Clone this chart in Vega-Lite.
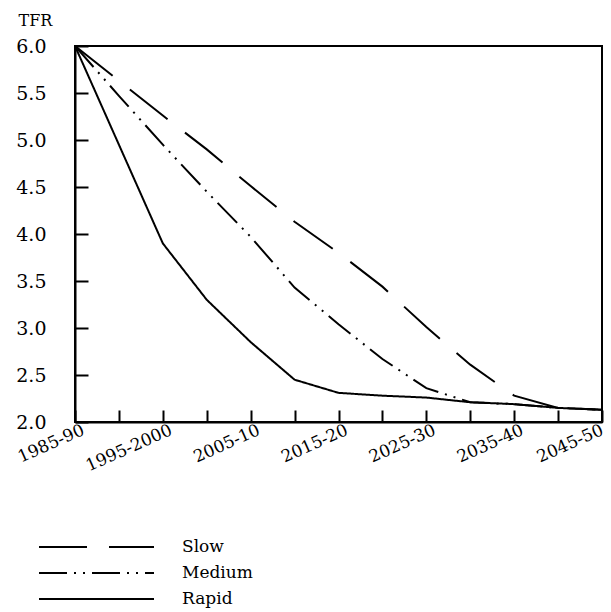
{
  "$schema": "https://vega.github.io/schema/vega-lite/v6.json",
  "autosize": {"type": "none"},
  "width": 527,
  "height": 376,
  "padding": {"left": 75, "top": 46, "right": 9, "bottom": 190},
  "background": "white",
  "config": {
    "view": {"stroke": "black", "strokeWidth": 2},
    "font": "DejaVu Serif",
    "axis": {"domainColor": "black", "domainWidth": 2, "tickColor": "black", "tickWidth": 2, "grid": false, "labelColor": "black", "labelFont": "DejaVu Serif", "titleFont": "DejaVu Serif", "titleColor": "black"},
    "legend": {"labelFont": "DejaVu Serif", "labelColor": "black"}
  },
  "data": {
    "values": [
      {"period": "1985-90", "series": "Slow", "tfr": 6.0},
      {"period": "1990-95", "series": "Slow", "tfr": 5.63},
      {"period": "1995-2000", "series": "Slow", "tfr": 5.26},
      {"period": "2000-05", "series": "Slow", "tfr": 4.90},
      {"period": "2005-10", "series": "Slow", "tfr": 4.51},
      {"period": "2010-15", "series": "Slow", "tfr": 4.13},
      {"period": "2015-20", "series": "Slow", "tfr": 3.80},
      {"period": "2020-25", "series": "Slow", "tfr": 3.44},
      {"period": "2025-30", "series": "Slow", "tfr": 3.01},
      {"period": "2030-35", "series": "Slow", "tfr": 2.61},
      {"period": "2035-40", "series": "Slow", "tfr": 2.28},
      {"period": "2040-45", "series": "Slow", "tfr": 2.15},
      {"period": "2045-50", "series": "Slow", "tfr": 2.13},
      {"period": "1985-90", "series": "Medium", "tfr": 6.0},
      {"period": "1990-95", "series": "Medium", "tfr": 5.47},
      {"period": "1995-2000", "series": "Medium", "tfr": 4.95},
      {"period": "2000-05", "series": "Medium", "tfr": 4.45},
      {"period": "2005-10", "series": "Medium", "tfr": 3.97},
      {"period": "2010-15", "series": "Medium", "tfr": 3.43},
      {"period": "2015-20", "series": "Medium", "tfr": 3.04},
      {"period": "2020-25", "series": "Medium", "tfr": 2.67},
      {"period": "2025-30", "series": "Medium", "tfr": 2.36},
      {"period": "2030-35", "series": "Medium", "tfr": 2.21},
      {"period": "2035-40", "series": "Medium", "tfr": 2.19},
      {"period": "2040-45", "series": "Medium", "tfr": 2.15},
      {"period": "2045-50", "series": "Medium", "tfr": 2.13},
      {"period": "1985-90", "series": "Rapid", "tfr": 6.0},
      {"period": "1990-95", "series": "Rapid", "tfr": 4.95},
      {"period": "1995-2000", "series": "Rapid", "tfr": 3.90},
      {"period": "2000-05", "series": "Rapid", "tfr": 3.30},
      {"period": "2005-10", "series": "Rapid", "tfr": 2.85},
      {"period": "2010-15", "series": "Rapid", "tfr": 2.45},
      {"period": "2015-20", "series": "Rapid", "tfr": 2.31},
      {"period": "2020-25", "series": "Rapid", "tfr": 2.28},
      {"period": "2025-30", "series": "Rapid", "tfr": 2.26},
      {"period": "2030-35", "series": "Rapid", "tfr": 2.21},
      {"period": "2035-40", "series": "Rapid", "tfr": 2.19},
      {"period": "2040-45", "series": "Rapid", "tfr": 2.15},
      {"period": "2045-50", "series": "Rapid", "tfr": 2.13}
    ]
  },
  "mark": {"type": "line", "color": "black", "strokeWidth": 2, "clip": true},
  "encoding": {
    "x": {
      "field": "period",
      "type": "ordinal",
      "sort": null,
      "scale": {"type": "point", "padding": 0, "domain": ["1985-90","1990-95","1995-2000","2000-05","2005-10","2010-15","2015-20","2020-25","2025-30","2030-35","2035-40","2040-45","2045-50"]},
      "axis": {
        "title": null,
        "tickSize": -12,
        "labelAngle": -24,
        "labelAlign": "right",
        "labelBaseline": "middle",
        "labelFontSize": 17,
        "labelPadding": 19,
        "labelOffset": {"condition": {"test": "datum.value === '2045-50'", "value": 0}, "value": 8},
        "labelOverlap": false,
        "labelExpr": "indexof(['1985-90','1995-2000','2005-10','2015-20','2025-30','2035-40','2045-50'], datum.value) >= 0 ? datum.value : ''"
      }
    },
    "y": {
      "field": "tfr",
      "type": "quantitative",
      "scale": {"domain": [2, 6], "nice": false, "zero": false},
      "axis": {
        "title": "TFR",
        "titleAngle": 0,
        "titleAlign": "left",
        "titleBaseline": "alphabetic",
        "titleX": -57,
        "titleY": -21,
        "titleFontSize": 16,
        "titleFontWeight": "normal",
        "values": [2, 2.5, 3, 3.5, 4, 4.5, 5, 5.5, 6],
        "format": ".1f",
        "tickSize": -13,
        "labelFontSize": 19,
        "labelPadding": 42
      }
    },
    "strokeDash": {
      "field": "series",
      "type": "nominal",
      "scale": {"domain": ["Slow", "Medium", "Rapid"], "range": [[48, 22], [28, 7, 2, 7, 2, 7], [1, 0]]},
      "legend": {
        "title": null,
        "orient": "none",
        "legendX": -37,
        "legendY": 492,
        "symbolType": "stroke",
        "symbolSize": 13225,
        "symbolStrokeWidth": 2,
        "symbolStrokeColor": "black",
        "labelFontSize": 17,
        "labelOffset": 27,
        "clipHeight": 18,
        "rowPadding": 8
      }
    }
  }
}
